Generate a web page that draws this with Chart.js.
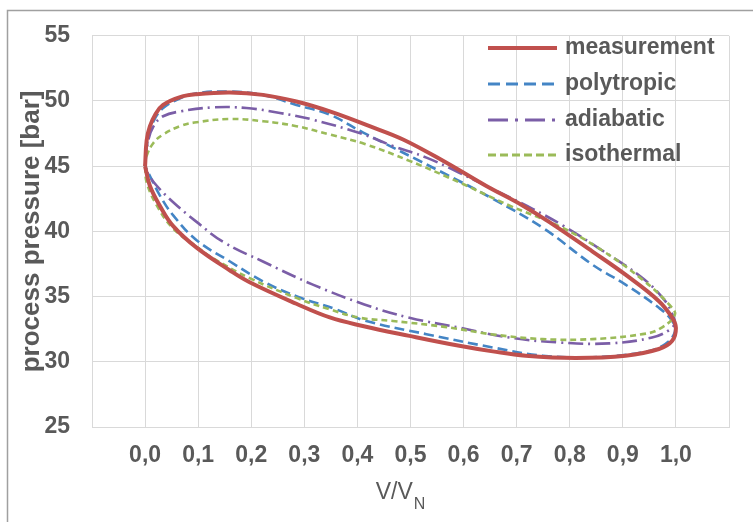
<!DOCTYPE html>
<html><head><meta charset="utf-8">
<script src="https://cdn.jsdelivr.net/npm/chart.js@4.4.0/dist/chart.umd.min.js"></script>
<style>html,body{margin:0;padding:0;background:#fff;}#wrap{position:relative;width:753px;height:522px;}</style>
</head><body><div id="wrap"><canvas id="c" width="753" height="522"></canvas></div>
<script>
// ---- data (V/VN, process pressure [bar]) ----
const seriesNames = ['measurement', 'polytropic', 'adiabatic', 'isothermal'];

const measV = [0, 0.003, 0.009, 0.019, 0.034, 0.066, 0.097, 0.16, 0.222, 0.285, 0.348, 0.423, 0.486, 0.567, 0.642, 0.711, 0.761, 0.843, 0.905, 0.968, 0.993, 1.0,
  0.993, 0.968, 0.905, 0.811, 0.717, 0.655, 0.592, 0.498, 0.41, 0.348, 0.285, 0.197, 0.16, 0.097, 0.053, 0.028, 0.009, 0];
const measP = [45.0, 47.0, 48.05, 48.95, 49.7, 50.3, 50.52, 50.65, 50.47, 49.96, 49.2, 48.07, 47.05, 45.28, 43.5, 41.99, 40.73, 38.45, 36.68, 34.65, 33.38, 32.6,
  31.61, 30.98, 30.47, 30.3, 30.47, 30.8, 31.23, 31.99, 32.75, 33.4, 34.45, 36.1, 37.0, 38.75, 40.4, 41.95, 43.5, 45.0];

const polyV = [0, 0.006, 0.016, 0.034, 0.066, 0.097, 0.16, 0.222, 0.285, 0.348, 0.41, 0.561, 0.655, 0.752, 0.843, 0.905, 0.968, 0.993, 0.998,
  0.98, 0.937, 0.843, 0.749, 0.655, 0.53, 0.415, 0.36, 0.285, 0.222, 0.16, 0.097, 0.053, 0.028, 0.009, 0];
const polyP = [45.0, 47.3, 48.45, 49.46, 50.2, 50.6, 50.72, 50.47, 49.7, 48.95, 47.6, 44.5, 42.5, 40.2, 37.44, 35.92, 34.14, 33.13, 32.3,
  31.36, 30.73, 30.35, 30.47, 31.1, 32.12, 33.15, 34.02, 35.03, 36.17, 37.69, 39.33, 41.23, 42.75, 44.27, 45.0];

const adiaV = [0, 0.005, 0.016, 0.034, 0.066, 0.128, 0.191, 0.254, 0.316, 0.407, 0.467, 0.53, 0.592, 0.667, 0.73, 0.786, 0.855, 0.937, 0.98, 0.996, 0.998,
  0.99, 0.955, 0.874, 0.78, 0.686, 0.592, 0.498, 0.413, 0.316, 0.222, 0.147, 0.097, 0.053, 0.022, 0.006, 0];
const adiaP = [45.0, 46.8, 48.07, 48.83, 49.2, 49.51, 49.46, 49.08, 48.57, 47.5, 46.55, 45.66, 44.5, 43.0, 41.73, 40.47, 38.7, 36.42, 34.65, 33.38, 33.0,
  32.5, 31.86, 31.41, 31.48, 31.86, 32.62, 33.38, 34.4, 35.92, 37.69, 39.2, 40.73, 42.24, 43.5, 44.39, 45.0];

const isoV = [0, 0.003, 0.016, 0.034, 0.066, 0.097, 0.16, 0.222, 0.285, 0.348, 0.414, 0.498, 0.592, 0.686, 0.78, 0.855, 0.937, 0.987, 0.998,
  0.968, 0.937, 0.843, 0.749, 0.655, 0.564, 0.467, 0.404, 0.348, 0.285, 0.197, 0.128, 0.097, 0.053, 0.022, 0.003, 0];
const isoP = [45.0, 45.8, 46.8, 47.43, 48.07, 48.37, 48.62, 48.45, 48.07, 47.43, 46.7, 45.41, 43.76, 41.99, 40.4, 38.7, 36.3, 34.4, 33.6,
  32.5, 32.12, 31.74, 31.74, 32.1, 32.68, 33.13, 33.38, 34.02, 34.9, 36.42, 37.94, 38.83, 40.22, 41.99, 43.76, 45.0];

const xTickLabels = ['0,0', '0,1', '0,2', '0,3', '0,4', '0,5', '0,6', '0,7', '0,8', '0,9', '1,0'];
const yTickLabels = ['25', '30', '35', '40', '45', '50', '55'];
const xTitleMain = 'V/V';
const xTitleSub = 'N';
const yTitle = 'process pressure [bar]';

// ---- build ----
const pts = (xs, ys) => xs.map((v, i) => ({x: v, y: ys[i]}));
const colors = ['#C0504D', '#4485C5', '#7B5EA7', '#9BBB59'];
const widths = [4, 2.6, 2.6, 2.6];
const dashes = [[], [10, 5], [15, 5, 2, 5], [6, 4]];
const legendDashes = [[], [12, 6], [20, 7, 3, 7], [8, 4]];
const allData = [pts(measV, measP), pts(polyV, polyP), pts(adiaV, adiaP), pts(isoV, isoP)];
const FONT = "'Liberation Sans', Arial, sans-serif";
const TXT = '#595959';

const datasets = seriesNames.map((n, i) => ({
  label: n,
  data: allData[i],
  showLine: true,
  borderColor: colors[i],
  backgroundColor: colors[i],
  borderWidth: widths[i],
  borderDash: dashes[i],
  pointRadius: 0,
  pointHoverRadius: 0,
  tension: 0.4,
  fill: false,
  order: i === 0 ? 0 : 4 - i
}));

const deco = {
  id: 'deco',
  beforeDraw(chart) {
    const ctx = chart.ctx;
    ctx.save();
    ctx.fillStyle = '#fff';
    ctx.fillRect(0, 0, chart.width, chart.height);
    ctx.strokeStyle = '#a0a0a0';
    ctx.lineWidth = 1.5;
    ctx.strokeRect(7.5, 10.5, 900, 700);
    ctx.restore();
  },
  afterDraw(chart) {
    const ctx = chart.ctx;
    ctx.save();
    // legend
    const rows = [48, 84, 120, 155];
    seriesNames.forEach((n, i) => {
      const y = rows[i];
      ctx.beginPath();
      ctx.strokeStyle = colors[i];
      ctx.lineWidth = i === 0 ? 4 : 3;
      ctx.setLineDash(legendDashes[i]);
      ctx.moveTo(488, y);
      ctx.lineTo(557, y);
      ctx.stroke();
      ctx.setLineDash([]);
      ctx.fillStyle = TXT;
      ctx.font = 'bold 23px ' + FONT;
      ctx.textAlign = 'left';
      ctx.textBaseline = 'middle';
      ctx.fillText(n, 565, y);
    });
    // x-axis title with subscript
    ctx.fillStyle = TXT;
    ctx.textBaseline = 'alphabetic';
    ctx.font = '23px ' + FONT;
    const wMain = ctx.measureText(xTitleMain).width;
    ctx.font = '16px ' + FONT;
    const wSub = ctx.measureText(xTitleSub).width;
    const x0 = 400 - (wMain + wSub) / 2;
    ctx.font = '23px ' + FONT;
    ctx.fillText(xTitleMain, x0, 499);
    ctx.font = '16px ' + FONT;
    ctx.fillText(xTitleSub, x0 + wMain + 1, 509);
    ctx.restore();
  }
};

new Chart(document.getElementById('c'), {
  type: 'scatter',
  data: {datasets},
  options: {
    responsive: false,
    animation: false,
    devicePixelRatio: 1,
    layout: {padding: {top: 32, right: 24, left: 0, bottom: 0}},
    plugins: {legend: {display: false}, tooltip: {enabled: false}},
    scales: {
      x: {
        type: 'linear',
        min: -0.1, max: 1.1,
        afterFit: s => { s.height = 95; },
        grid: {color: '#d9d9d9', drawTicks: false},
        border: {color: '#d9d9d9'},
        ticks: {
          stepSize: 0.1,
          padding: 15,
          maxRotation: 0,
          autoSkip: false,
          color: TXT,
          font: {family: FONT, size: 23, weight: 'bold'},
          callback: v => { const i = Math.round(v * 10); return (i >= 0 && i < xTickLabels.length) ? xTickLabels[i] : ''; }
        }
      },
      y: {
        type: 'linear',
        min: 25, max: 55,
        afterFit: s => { s.width = 92; },
        grid: {color: '#d9d9d9', drawTicks: false},
        border: {color: '#d9d9d9'},
        title: {display: true, text: yTitle, color: TXT, font: {family: FONT, size: 26, weight: 'bold'}, padding: {top: 16, bottom: 0}},
        ticks: {
          stepSize: 5,
          padding: 22,
          color: TXT,
          font: {family: FONT, size: 23, weight: 'bold'},
          callback: v => { const i = Math.round((v - 25) / 5); return yTickLabels[i] !== undefined ? yTickLabels[i] : ''; }
        }
      }
    }
  },
  plugins: [deco]
});
</script></body></html>
